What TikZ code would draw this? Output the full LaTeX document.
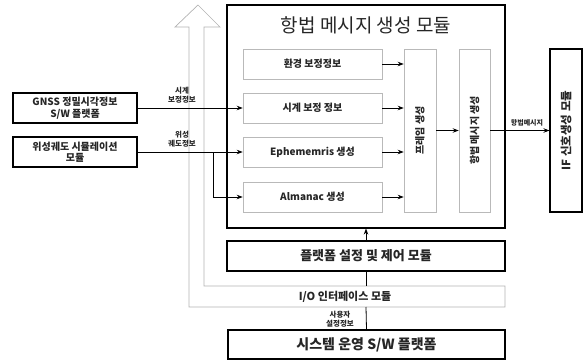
\documentclass[tikz,border=0pt]{standalone}
\usepackage{fontspec}
\setmainfont{Noto Sans CJK KR}
\usetikzlibrary{arrows.meta}
\begin{document}
\begin{tikzpicture}[x=1pt,y=-1pt,
  every node/.style={font=\bfseries\fontsize{10}{11.5}\selectfont, text=black!85, align=center, inner sep=0pt},
  thickbox/.style={draw=black, line width=1.1pt},
  lightbox/.style={draw=gray!55, line width=0.6pt},
  arr/.style={-{Stealth[length=6pt,width=4.5pt]}, line width=0.8pt},
  ln/.style={line width=0.8pt},
  small/.style={font=\bfseries\fontsize{7.5}{9.5}\selectfont}]
\useasboundingbox (0,0) rectangle (585,361);

% I/O interface hollow arrow
\draw[gray!60, line width=0.7pt] (189,307) -- (189,27) -- (175,27) -- (198,5) -- (220,27) -- (204,27) -- (204,286) -- (505,286) -- (505,307) -- cycle;
\node[font=\bfseries\fontsize{11}{13}\selectfont] (io) at (345,297) {I/O 인터페이스 모듈};
\coordinate (ioTop) at (366,286);
\coordinate (ioBot) at (366,307);

% main module
\node[thickbox, minimum width=278pt, minimum height=223pt] (main) at (366,116.5) {};
\node[font=\fontsize{19}{22}\selectfont] (title) at (366,25) {항법 메시지 생성 모듈};

\node[lightbox, minimum width=139pt, minimum height=30pt] (env) at (312.5,64) {환경 보정정보};
\node[lightbox, minimum width=139pt, minimum height=30pt] (clk) at (312.5,108) {시계 보정 정보};
\node[lightbox, minimum width=139pt, minimum height=30pt] (eph) at (312.5,152) {Ephememris 생성};
\node[lightbox, minimum width=139pt, minimum height=30pt] (alm) at (312.5,197) {Almanac 생성};

\node[lightbox, minimum width=32pt, minimum height=163pt] (frame) at (420,130.5) {};
\node[rotate=90] at (frame.center) {프레임 생성};
\node[lightbox, minimum width=31pt, minimum height=163pt] (navm) at (474.5,130.5) {};
\node[rotate=90] at (navm.center) {항법 메시지 생성};

\node[thickbox, minimum width=32pt, minimum height=163pt] (ifm) at (566,130.5) {};
\node[rotate=90, font=\bfseries\fontsize{11.5}{13}\selectfont] at (ifm.center) {IF 신호생성 모듈};

% left modules
\node[thickbox, minimum width=124pt, minimum height=30pt] (gnss) at (75,108) {GNSS 정밀시각정보\\S/W 플랫폼};
\node[thickbox, minimum width=124pt, minimum height=30pt] (sat) at (75,152) {위성궤도 시뮬레이션\\모듈};

% bottom modules
\node[thickbox, minimum width=278pt, minimum height=30pt, font=\bfseries\fontsize{13}{15}\selectfont] (plat) at (366,256) {플랫폼 설정 및 제어 모듈};
\node[thickbox, minimum width=277pt, minimum height=29pt, font=\bfseries\fontsize{14}{16}\selectfont] (sys) at (366.5,344.5) {시스템 운영 S/W 플랫폼};

% connectors
\draw[arr] (gnss.east) -- (clk.west);
\draw[arr] (sat.east) -- (eph.west);
\coordinate (br) at (213,152);
\draw[arr] (br) |- (alm.west);
\node[small] (lclk) at (182,95) {시계\\보정정보};
\node[small] (lsat) at (182,139) {위성\\궤도정보};

\draw[arr] (env.east) -- (env.east -| frame.west);
\draw[arr] (clk.east) -- (clk.east -| frame.west);
\draw[arr] (eph.east) -- (eph.east -| frame.west);
\draw[arr] (alm.east) -- (alm.east -| frame.west);
\draw[arr] (frame.east) -- (navm.west);
\draw[arr] (navm.east) -- (ifm.west);
\node[small, font=\bfseries\fontsize{7}{8.5}\selectfont] (lnav) at (527,123) {항법메시지};

\draw[arr] (plat.north) -- (main.south);
\draw[ln] (ioTop) -- (plat.south);
\draw[ln] (sys.north) -- (ioBot);
\node[small] (luser) at (340,319) {사용자\\설정정보};
\end{tikzpicture}
\end{document}
